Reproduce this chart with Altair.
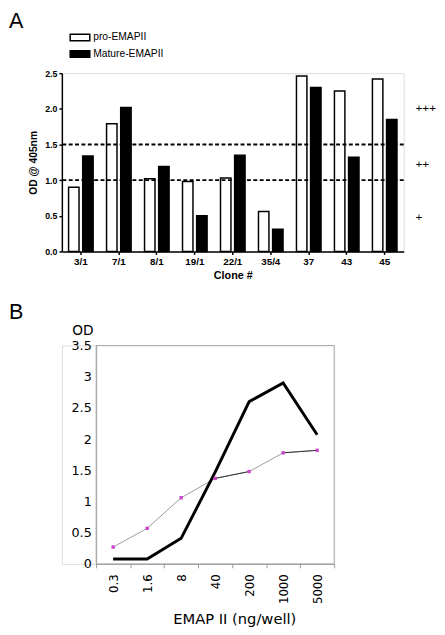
import altair as alt
import pandas as pd

# ---- Panel A data ----
clones = ["3/1", "7/1", "8/1", "19/1", "22/1", "35/4", "37", "43", "45"]
forms = ["pro-EMAPII", "Mature-EMAPII"]
pro_od = [0.90, 1.79, 1.02, 0.98, 1.03, 0.56, 2.46, 2.25, 2.42]
mature_od = [1.34, 2.02, 1.19, 0.50, 1.35, 0.31, 2.30, 1.32, 1.85]
thresholds = [1.0, 1.5]
grade_labels = ["+++", "++", "+"]
grade_pos = [2.01, 1.22, 0.48]
ticks_a = [0, 0.5, 1.0, 1.5, 2.0, 2.5]

# ---- Panel B data ----
doses = ["0.3", "1.6", "8", "40", "200", "1000", "5000"]
black_od = [0.08, 0.08, 0.41, 1.47, 2.60, 2.90, 2.07]
pink_od = [0.27, 0.57, 1.06, 1.37, 1.48, 1.78, 1.82]
ticks_b = [0, 0.5, 1, 1.5, 2, 2.5, 3, 3.5]
# segments of the thin series that are drawn darker in the original
dark_seg = [None, None, None, 1, 1, None, None]
dark_seg2 = [None, None, None, None, None, 2, 2]

ARIAL = "Liberation Sans"
VERD = "DejaVu Sans"

df_a = pd.DataFrame({
    "clone": clones * 2,
    "form": [forms[0]] * len(clones) + [forms[1]] * len(clones),
    "od": pro_od + mature_od,
})

axis_ya = alt.Axis(values=ticks_a, labelOverlap=False, tickCount=6,
                   format=".1f", grid=False, labelFont=ARIAL,
                   labelFontWeight="bold", labelFontSize=9, labelColor="black",
                   titleFont=ARIAL, titleFontWeight="bold", titleFontSize=10.5,
                   titleColor="black", domainColor="black", domainWidth=1.5,
                   tickColor="black", tickSize=3, tickWidth=1.5,
                   labelPadding=2, titlePadding=6.5)
ya = alt.Y("od:Q", scale=alt.Scale(domain=[0, 2.5]), title="OD @ 405nm", axis=axis_ya)

bars = alt.Chart(df_a).mark_bar(stroke="black", strokeWidth=1.5).encode(
    x=alt.X("clone:N", sort=clones,
            scale=alt.Scale(paddingInner=0, paddingOuter=0),
            axis=alt.Axis(title="Clone #", labelAngle=0, labelFont=ARIAL,
                          labelFontWeight="bold", labelFontSize=10, labelColor="black",
                          titleFont=ARIAL, titleFontWeight="bold", titleFontSize=11,
                          titleColor="black", domainColor="black", domainWidth=1.5,
                          tickColor="black", tickSize=3, tickWidth=1.5,
                          labelPadding=2, titlePadding=4)),
    xOffset=alt.XOffset("form:N", sort=forms,
                        scale=alt.Scale(paddingInner=0.26, paddingOuter=0.475)),
    y=ya,
    fill=alt.Fill("form:N", sort=forms,
                  scale=alt.Scale(domain=forms, range=["white", "black"]),
                  legend=alt.Legend(title=None, orient="none", legendX=11, legendY=-44,
                                    symbolType="M-1.5,-0.5H1.5V0.5H-1.5Z",
                                    symbolSize=178, symbolStrokeColor="black",
                                    symbolStrokeWidth=1.5, labelFont=ARIAL,
                                    labelFontSize=10.5, labelColor="black",
                                    labelOffset=6, rowPadding=3)),
)

rules = alt.Chart(pd.DataFrame({"od": thresholds})).mark_rule(
    color="black", strokeDash=[4, 2.5], strokeWidth=1.8
).encode(y=ya)

grades = alt.Chart(pd.DataFrame({"od": grade_pos, "g": grade_labels})).mark_text(
    font=ARIAL, fontSize=12, align="left", baseline="middle"
).encode(y=ya, text="g:N", x=alt.value(361), fill=alt.value("black"))

letter_a = alt.Chart(pd.DataFrame({"t": ["A"]})).mark_text(
    font=ARIAL, fontSize=22, align="left", baseline="alphabetic"
).encode(text="t:N", x=alt.value(-54), y=alt.value(-46), fill=alt.value("black"))

panel_a = alt.layer(bars, rules, grades, letter_a).properties(width=349, height=182)

# ---- Panel B ----
# plot origin is shared with panel A (x=62 on page); the B box starts 35px further right
B_OFF = 35
B_W = 243
df_pink = pd.DataFrame({"dose": doses, "od": pink_od})
df_black = pd.DataFrame({"dose": doses, "od": black_od})
segs = []
for d, v, s1, s2 in zip(doses, pink_od, dark_seg, dark_seg2):
    for s in (s1, s2):
        if s is not None:
            segs.append({"dose": d, "od": v, "seg": s})
df_dark = pd.DataFrame(segs)

xb = alt.X("dose:N", sort=doses,
           scale=alt.Scale(type="band", paddingInner=0, paddingOuter=0,
                           range=[B_OFF, B_OFF + B_W]),
           axis=alt.Axis(title="EMAP II (ng/well)", labelAngle=-90, tickBand="extent",
                         labelFont=VERD, labelFontSize=12, labelColor="black",
                         labelPadding=6, tickColor="#999999", tickSize=4,
                         domainColor="#999999", titleFont=VERD, titleFontSize=15,
                         titleFontWeight="normal", titleColor="black",
                         titleX=B_OFF + 141, titleY=61, titleAlign="center",
                         titleBaseline="alphabetic"))
yenc = alt.Y("od:Q", scale=alt.Scale(domain=[0, 3.5]), title="OD",
             axis=alt.Axis(values=ticks_b, offset=-B_OFF,
                           format="~g", grid=False, ticks=False, labelFont=VERD,
                           labelFontSize=13, labelColor="black", labelPadding=5,
                           labelOverlap=False,
                           domainColor="#999999", titleFont=VERD, titleFontSize=14,
                           titleFontWeight="normal", titleColor="black", titleAngle=0,
                           titleX=-25, titleY=-11, titleAlign="left",
                           titleBaseline="alphabetic"))

frame = alt.Chart(pd.DataFrame({"f": [0]})).mark_rect(
    fill="transparent", stroke="#aaaaaa", strokeWidth=1
).encode(x=alt.value(B_OFF), x2=alt.value(B_OFF + B_W),
         y=alt.value(0), y2=alt.value(223))

pink_line = alt.Chart(df_pink).mark_line(color="#9a9a9a", strokeWidth=1).encode(
    x=xb, y=yenc)

dark_line = alt.Chart(df_dark).mark_line(color="#333333", strokeWidth=1).encode(
    x=xb, y=yenc, detail="seg:N")

black_line = alt.Chart(df_black).mark_line(color="black", strokeWidth=3).encode(
    x=xb, y=yenc)

pink_pts = alt.Chart(df_pink).mark_square(color="#cc44cc", size=12, opacity=1).encode(
    x=xb, y=yenc)

letter_b = alt.Chart(pd.DataFrame({"t": ["B"]})).mark_text(
    font=ARIAL, fontSize=22, align="left", baseline="alphabetic"
).encode(text="t:N", x=alt.value(-54), y=alt.value(-27), fill=alt.value("black"))

panel_b = alt.layer(frame, pink_line, dark_line, black_line, pink_pts, letter_b).properties(
    width=B_OFF + B_W, height=223
)

chart = alt.concat(panel_a, panel_b, columns=1, spacing=19, bounds="full").properties(
    padding={"top": -5, "left": 0, "right": 0, "bottom": 0}
).configure_view(stroke="transparent").configure(background="white")

chart.save("out.html", embed_options={"renderer": "svg", "actions": False})
